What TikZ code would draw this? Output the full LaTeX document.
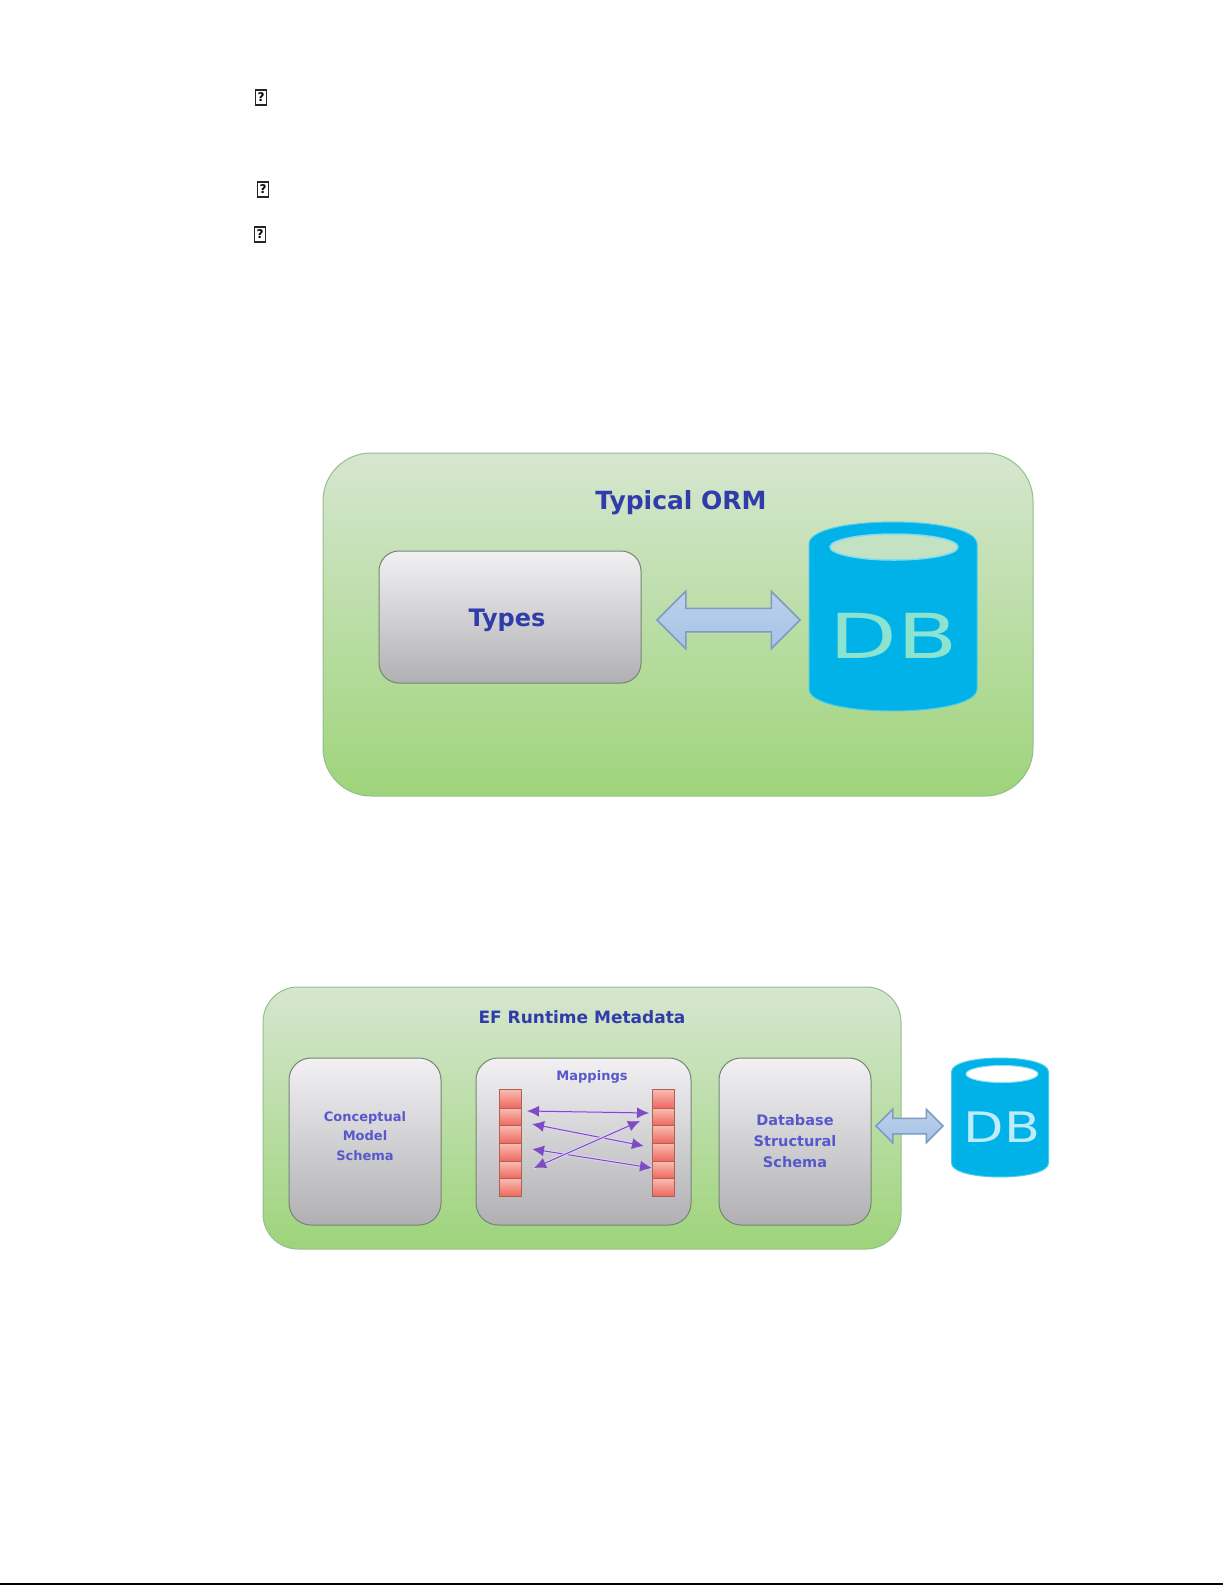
\documentclass[tikz,border=0pt]{standalone}
\usepackage{fontspec}
\setmainfont{DejaVu Sans}
\usetikzlibrary{shapes.arrows,arrows.meta}
\definecolor{txtdark}{RGB}{48,60,170}
\definecolor{txtlite}{RGB}{88,88,205}
\definecolor{grnT}{RGB}{214,230,208}
\definecolor{grnB}{RGB}{158,212,122}
\definecolor{gryT}{RGB}{242,240,242}
\definecolor{gryB}{RGB}{176,176,178}
\definecolor{cyl}{RGB}{0,178,232}
\definecolor{cylrim}{RGB}{70,205,235}
\definecolor{arrT}{RGB}{190,208,235}
\definecolor{arrB}{RGB}{165,195,230}
\definecolor{arrE}{RGB}{125,155,195}
\definecolor{purp}{RGB}{125,75,195}
\definecolor{cellT}{RGB}{250,190,180}
\definecolor{cellB}{RGB}{238,105,95}
\definecolor{cellE}{RGB}{175,95,90}
\definecolor{dbteal}{RGB}{140,228,208}
\definecolor{eltop}{RGB}{195,226,195}
\definecolor{boxrim}{RGB}{150,190,140}
\definecolor{innerrim}{RGB}{115,135,115}
\tikzset{
  x=1pt,y=-1pt,
  tofu/.style={draw=black!85,line width=1.2pt,fill=white,minimum width=11pt,minimum height=15pt,inner sep=0pt,font=\fontsize{12}{12}\selectfont\bfseries},
  outerbox/.style={draw=boxrim,line width=1pt,top color=grnT,bottom color=grnB,rectangle,inner sep=0pt},
  innerbox/.style={draw=innerrim,line width=1pt,top color=gryT,bottom color=gryB,rectangle,inner sep=0pt},
  cap1/.style={text=txtdark,font=\fontsize{25}{30}\selectfont\bfseries,inner sep=0pt},
  cap2/.style={text=txtlite,font=\fontsize{13}{20}\selectfont\bfseries,inner sep=0pt,align=center},
  dbarrow/.style={double arrow,draw=arrE,line width=1.5pt,top color=arrT,bottom color=arrB,inner sep=0pt},
  cell/.style={rectangle,draw=cellE,line width=1pt,top color=cellT,bottom color=cellB,inner sep=0pt},
  maparrow/.style={purp,line width=1pt,{Latex[length=12pt,width=11pt]}-{Latex[length=12pt,width=11pt]},
    preaction={draw=purp!25,line width=3pt,-}},
}
\newcommand{\dbcyl}[5]{% cx, top, rx, height, ry
  \fill[cyl,draw=cylrim,line width=1pt] ({#1-#3},{#2+#5}) .. controls ({#1-#3},{#2-#5*0.33}) and ({#1+#3},{#2-#5*0.33}) .. ({#1+#3},{#2+#5})
    -- ({#1+#3},{#2+#4-#5}) .. controls ({#1+#3},{#2+#4+#5*0.33}) and ({#1-#3},{#2+#4+#5*0.33}) .. ({#1-#3},{#2+#4-#5}) -- cycle;}
\begin{document}
\begin{tikzpicture}
\useasboundingbox (0,0) rectangle (1225,1585);
\fill[white] (0,0) rectangle (1225,1585);
% placeholder glyphs
\node[tofu] (t1) at (261,97.5) {?};
\node[tofu] (t2) at (263,189.5) {?};
\node[tofu] (t3) at (260,234.5) {?};
% typical ORM
\draw[outerbox,rounded corners=48pt] (323,453) rectangle (1033,796);
\node[cap1] (title1) at (681,503) {Typical ORM};
\draw[innerbox,rounded corners=20pt] (379,551) rectangle (641,683);
\node[cap1,font=\fontsize{24}{30}\selectfont\bfseries] (types) at (507,620) {Types};
\dbcyl{893}{522}{84}{189}{22}
\fill[eltop,draw=cylrim!70!white,line width=1.5pt] (894,547) ellipse [x radius=64,y radius=13];
\node[font=\fontsize{62}{62}\selectfont,text=dbteal,inner sep=0pt,xscale=1.42] (db1) at (894,636) {DB};
\node[dbarrow,double arrow head extend=17pt,minimum height=143pt] (arr1) at (728.5,620) {\rule{0pt}{22pt}};
% EF runtime
\draw[outerbox,rounded corners=35pt] (263,987) rectangle (901,1249);
\node[cap1,font=\fontsize{17}{22}\selectfont\bfseries] (title2) at (582,1017) {EF Runtime Metadata};
\draw[innerbox,rounded corners=22pt] (289,1058) rectangle (441,1225);
\node[cap2,font=\fontsize{13}{19.5}\selectfont\bfseries] (cms) at (365,1136) {Conceptual\\Model\\Schema};
\draw[innerbox,rounded corners=22pt] (476,1058) rectangle (691,1225);
\node[cap2] (map) at (592,1077) {Mappings};
\draw[innerbox,rounded corners=22pt] (719,1058) rectangle (871,1225);
\node[cap2,font=\fontsize{14.5}{21}\selectfont\bfseries] (dss) at (795,1141) {Database\\Structural\\Schema};
% cell columns
\foreach \n/\a/\b in {1/1089/1108,2/1108/1125,3/1125/1143,4/1143/1161,5/1161/1178,6/1178/1196}{
  \draw[cell] (499,\a) rectangle (521,\b);
  \draw[cell] (652,\a) rectangle (674,\b);
}
\coordinate (a1l) at (527,1111); \coordinate (a1r) at (649,1113);
\coordinate (a2l) at (532,1124); \coordinate (a2r) at (644,1146);
\coordinate (a3l) at (532,1149); \coordinate (a3r) at (652,1168);
\coordinate (a4l) at (534,1168); \coordinate (a4r) at (640,1121);
\draw[maparrow] (a1l) -- (a1r);
\draw[maparrow] (a2l) -- (a2r);
\draw[maparrow] (a3l) -- (a3r);
\draw[maparrow] (a4l) -- (a4r);
\dbcyl{1000}{1058}{48.5}{119}{14}
\fill[white,draw=cylrim!60!white,line width=1pt] (1002,1074) ellipse [x radius=36,y radius=8.5];
\node[font=\fontsize{42}{42}\selectfont,text=cyl!25!white,inner sep=0pt,xscale=1.25] (db2) at (1002,1127) {DB};
\node[dbarrow,double arrow head extend=9pt,minimum height=67pt] (arr2) at (909.5,1126) {\rule{0pt}{14pt}};
% bottom rule
\coordinate (r1) at (0,1584); \coordinate (r2) at (1223,1584);
\draw[black,line width=1.5pt] (r1) -- (r2);
\end{tikzpicture}
\end{document}
